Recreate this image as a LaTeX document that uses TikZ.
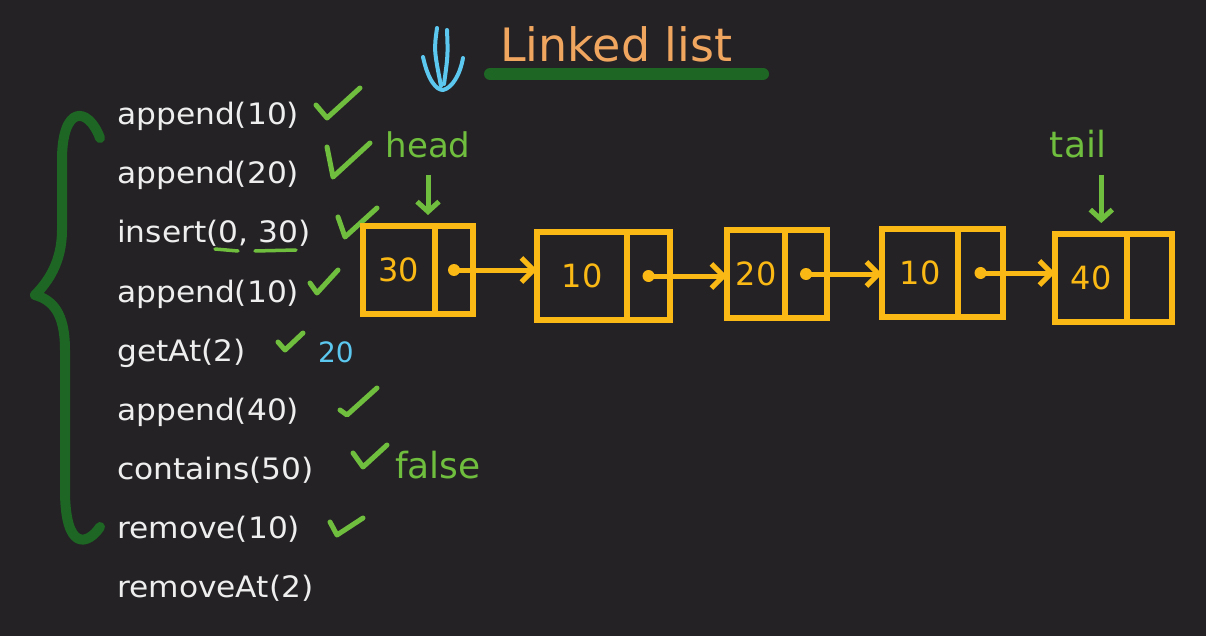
\documentclass[tikz,border=0pt]{standalone}
\usepackage{fontspec}
\setmainfont{DejaVu Sans}
\newfontfamily\opfont[FakeStretch=1.06]{DejaVu Sans}
\usetikzlibrary{positioning,arrows.meta}

\definecolor{board}{RGB}{36,34,37}
\definecolor{chalk}{RGB}{238,238,238}
\definecolor{amber}{RGB}{250,185,20}
\definecolor{tickgreen}{RGB}{112,190,62}
\definecolor{bracegreen}{RGB}{30,102,36}
\definecolor{titleorange}{RGB}{241,166,96}
\definecolor{skyblue}{RGB}{92,200,240}

\tikzset{
op/.style={text=chalk, anchor=base west, inner sep=0pt, font=\opfont\fontsize{29.5}{34}\selectfont},
datacell/.style={draw=amber, line width=6pt, minimum height=88pt, inner sep=0pt, outer sep=0pt, text=amber, font=\fontsize{32}{36}\selectfont},
ptrcell/.style={datacell},
link/.style={draw=amber, line width=5pt, -{Straight Barb[length=12pt,width=24pt]}},
tick/.style={draw=tickgreen, line width=5pt, line cap=round, line join=round},
note/.style={text=tickgreen, anchor=base, inner sep=0pt},
pointer/.style={draw=tickgreen, line width=5pt, -{Straight Barb[length=10pt,width=22pt]}, shorten <=16pt, shorten >=11pt}
}

\begin{document}
\begin{tikzpicture}[x=1pt, y=-1pt]

\fill[board] (0,0) rectangle (1206,636);

% title
\node[anchor=base west, inner sep=0pt, text=titleorange, font=\fontsize{46}{50}\selectfont] (title) at (500,62)
{Linked list};
\draw[bracegreen, line width=12pt, line cap=round] (490,74) -- (763,74);

\draw[skyblue, line width=4pt, line cap=round] (437,28) .. controls (434,50) .. (441,86);
\draw[skyblue, line width=4pt, line cap=round] (447,30) .. controls (448,55) .. (444,84);
\draw[skyblue, line width=4pt, line cap=round, line join=round] (423,57) .. controls (428,80) and (436,90) .. (443,90) .. controls (452,88) and (460,75) .. (463,58);

% operations
\node[op] (op1) at (117,125) {append(10)};
\node[op] (op2) at (117,184) {append(20)};
\node[op] (op3) at (117,243) {insert(0, 30)};
\node[op] (op4) at (117,302) {append(10)};
\node[op] (op5) at (117,361) {getAt(2)};
\node[op] (op6) at (117,420) {append(40)};
\node[op] (op7) at (117,479) {contains(50)};
\node[op] (op8) at (117,538) {remove(10)};
\node[op] (op9) at (117,597) {removeAt(2)};

\draw[bracegreen, line width=10pt, line cap=round, line join=round]
(100,138) .. controls (88,106) and (62,105) .. (62,160) -- (62,230)
.. controls (62,262) and (48,282) .. (35,295)
.. controls (52,300) and (65,312) .. (65,350) -- (65,490)
.. controls (65,552) and (88,545) .. (100,527);

% ticks
\draw[tick] (316,105) -- (327,118) -- (360,88);
\draw[tick] (327,147) -- (333,177) -- (370,143);
\draw[tick] (338,217) -- (345,237) -- (377,208);
\draw[tick] (310,283) -- (317,293) -- (338,270);
\draw[tick] (278,342) -- (285,350) -- (303,333);
\draw[tick] (340,410) -- (347,415) -- (377,388);
\draw[tick] (353,453) -- (363,467) -- (387,445);
\draw[tick] (330,522) -- (337,535) -- (363,518);
\draw[tick, line width=3.5pt] (215,249) -- (238,251);
\draw[tick, line width=3.5pt] (255,251) -- (296,250);

\node[text=skyblue, anchor=base, inner sep=0pt, font=\fontsize{28}{32}\selectfont] (res) at (336,362)
{20};
\node[note, font=\fontsize{36}{40}\selectfont] (false) at (438,478)
{false};

% list
\node[datacell, minimum width=72pt] (d1) at (399,270) {30};
\node[ptrcell, minimum width=38pt, right=0pt of d1] (p1) {};

\node[datacell, minimum width=90pt] (d2) at (582,276) {10};
\node[ptrcell, minimum width=43pt, right=0pt of d2] (p2) {};

\node[datacell, minimum width=58pt] (d3) at (756,274) {20};
\node[ptrcell, minimum width=42pt, right=0pt of d3] (p3) {};

\node[datacell, minimum width=76pt] (d4) at (920,273) {10};
\node[ptrcell, minimum width=45pt, right=0pt of d4] (p4) {};

\node[datacell, minimum width=72pt] (d5) at (1091,278) {40};
\node[ptrcell, minimum width=45pt, right=0pt of d5] (p5) {};

\fill[amber] (p1.center) circle[radius=6pt];
\fill[amber] (p2.center) circle[radius=6pt];
\fill[amber] (p3.center) circle[radius=6pt];
\fill[amber] (p4.center) circle[radius=6pt];
\draw[link] (p1.center) -- (p1.center -| d2.west);
\draw[link] (p2.center) -- (p2.center -| d3.west);
\draw[link] (p3.center) -- (p3.center -| d4.west);
\draw[link] (p4.center) -- (p4.center -| d5.west);

% head and tail
\node[note, font=\fontsize{34}{38}\selectfont] (head) at (428,158)
{head};
\node[note, font=\fontsize{36}{40}\selectfont] (tail) at (1078,158)
{tail};
\coordinate (tailfoot) at ([xshift=-5pt]tail.south east);

\draw[pointer] (head) -- (head |- d1.north);
\draw[pointer] (tailfoot) -- (tailfoot |- d5.north);

\end{tikzpicture}
\end{document}
